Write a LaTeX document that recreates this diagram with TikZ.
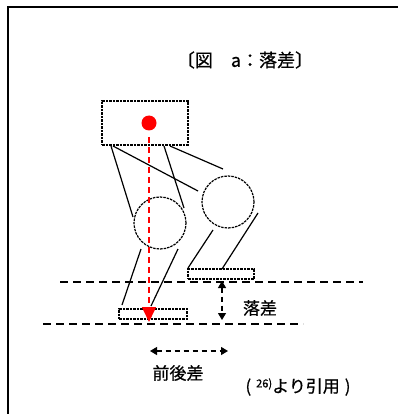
\documentclass[tikz,border=0pt]{standalone}
\usepackage{fontspec}
\newfontfamily\jp[FakeBold=0.6]{Noto Sans CJK JP}
\usetikzlibrary{arrows.meta}
\begin{document}
\begin{tikzpicture}[x=1pt,y=-1pt,
  frame/.style={line width=1.5pt},
  outline/.style={draw, dash pattern=on 2.5pt off 1pt, line width=1.2pt, inner sep=0pt},
  limb/.style={line width=1.2pt},
  ground/.style={dash pattern=on 8pt off 5pt, line width=1.2pt},
  plumb/.style={red, dash pattern=on 6pt off 4pt, line width=1.5pt,
    -{Triangle[length=15pt,width=14pt]}},
  gap/.style={dash pattern=on 5pt off 4pt, line width=1.1pt,
    {Triangle[length=7pt,width=8pt]}-{Triangle[length=7pt,width=8pt]}},
  label/.style={font=\jp\fontsize{17}{17}\selectfont, inner sep=0pt}]
\useasboundingbox (0,0) rectangle (398,414);

% frame
\draw[frame] (8,414) -- (8,7) -- (398,7);

% title
\node[font=\jp\fontsize{18}{18}\selectfont, inner sep=0pt] (title) at (245,60) {〔図　a：落差〕};

% body with centre of mass
\node[outline, minimum width=86pt, minimum height=44pt] (body) at (145,123) {};
\node[circle, fill=red, minimum size=15pt, inner sep=0pt] (com) at (149,123) {};

% knees
\node[outline, circle, minimum size=52pt] (kneeF) at (160,223) {};
\node[outline, circle, minimum size=52pt] (kneeB) at (228,202) {};

% feet
\node[outline, minimum width=68pt, minimum height=10pt] (footF) at (153,314) {};
\node[outline, minimum width=66pt, minimum height=10pt] (footB) at (221,274) {};

% limb end points
\coordinate (hipF1) at (111,146); \coordinate (thF1) at (133,217);
\coordinate (hipF2) at (164,146); \coordinate (thF2) at (184,208);
\coordinate (hipB1) at (113,146); \coordinate (thB1) at (198,191);
\coordinate (hipB2) at (170,146); \coordinate (thB2) at (223,169);
\coordinate (shF1) at (141,249); \coordinate (anF1) at (122,305);
\coordinate (shF2) at (178,249); \coordinate (anF2) at (151,306);
\coordinate (shB1) at (213,230); \coordinate (anB1) at (188,268);
\coordinate (shB2) at (258,213); \coordinate (anB2) at (222,269);

% thighs
\draw[limb] (hipF1) -- (thF1);
\draw[limb] (hipF2) -- (thF2);
\draw[limb] (hipB1) -- (thB1);
\draw[limb] (hipB2) -- (thB2);
% shins
\draw[limb] (shF1) -- (anF1);
\draw[limb] (shF2) -- (anF2);
\draw[limb] (shB1) -- (anB1);
\draw[limb] (shB2) -- (anB2);

% ground levels
\coordinate (upL) at (60,282);  \coordinate (upR) at (363,282);
\coordinate (loL) at (43,324);  \coordinate (loR) at (303,324);
\draw[ground] (upL) -- (upR);
\draw[ground] (loL) -- (loR);

% plumb line from centre of mass
\coordinate (plumbTop) at (149,137);
\coordinate (plumbEnd) at (149,322);
\draw[plumb] (plumbTop) -- (plumbEnd);

% height difference
\coordinate (dropTop) at (222,281);
\coordinate (dropBot) at (222,320);
\draw[gap] (dropTop) -- (dropBot);
\node[label] (droplbl) at (260,308) {落差};

% fore-aft difference
\coordinate (faL) at (150,351);
\coordinate (faR) at (228,351);
\draw[gap] (faL) -- (faR);
\node[label] (falbl) at (178,373) {前後差};

% citation
\node[label] (cite) at (298,387) {(\hspace{5pt}\raisebox{5pt}{\fontsize{11}{11}\selectfont 26)}より引用\hspace{5pt})};
\end{tikzpicture}
\end{document}
